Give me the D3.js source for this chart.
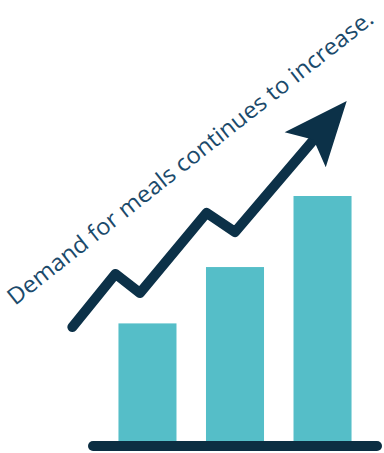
<!DOCTYPE html>
<html>
<head>
<meta charset="utf-8">
<script src="https://cdn.jsdelivr.net/npm/d3@7"></script>
<style>
  html, body { margin: 0; padding: 0; background: #fff; }
  svg { display: block; }
</style>
</head>
<body>
<div id="chartDiv"></div>
<script>
// bar categories and values (relative demand)
var categories = ["Year 1", "Year 2", "Year 3"];
var barValues = [48, 71, 100];

// trend arrow points, x in category units, y in value units
var trendX = [-0.16, 0.28, 0.53, 1.21, 1.50, 2.64];
var trendY = [46.5, 68.2, 60.4, 93.1, 85.3, 138.8];

var title = "Demand for meals continues to increase.";

var width = 384, height = 453;

var svg = d3.select("#chartDiv").append("svg")
    .attr("width", width)
    .attr("height", height);

var baseY = 441;

var x_scale = d3.scaleBand()
    .domain(categories)
    .range([88, 382])
    .paddingInner(0.337)
    .paddingOuter(0.348);

var x_lin = d3.scaleLinear()
    .domain([0, 3])
    .range([88, 382]);

var y_scale = d3.scaleLinear()
    .domain([0, 100])
    .range([baseY, 196]);

// bars
svg.append("g").selectAll("rect")
    .data(barValues)
    .enter().append("rect")
    .attr("x", function(d, i){ return x_scale(categories[i]); })
    .attr("y", function(d){ return y_scale(d); })
    .attr("width", x_scale.bandwidth())
    .attr("height", function(d){ return baseY - y_scale(d); })
    .attr("fill", "#55bec8");

// baseline
svg.append("line")
    .attr("x1", x_scale.range()[0] + 5)
    .attr("x2", x_scale.range()[1] - 5)
    .attr("y1", baseY + 5)
    .attr("y2", baseY + 5)
    .attr("stroke", "#0c2e42")
    .attr("stroke-width", 10)
    .attr("stroke-linecap", "round");

// trend line
var pts = trendX.map(function(d, i){ return [x_lin(d), y_scale(trendY[i])]; });
var tip = pts[pts.length - 1],
    prev = pts[pts.length - 2];
var ang = Math.atan2(tip[1] - prev[1], tip[0] - prev[0]);
var headLen = 64, headHalf = 27, notch = 13;

var linePts = pts.slice(0, -1);
linePts.push([tip[0] - Math.cos(ang) * (headLen - notch - 4), tip[1] - Math.sin(ang) * (headLen - notch - 4)]);

svg.append("path")
    .attr("d", d3.line()(linePts))
    .attr("fill", "none")
    .attr("stroke", "#0c3148")
    .attr("stroke-width", 10)
    .attr("stroke-linejoin", "round")
    .attr("stroke-linecap", "round");

svg.append("path")
    .attr("d", "M0,0 L" + (-headLen) + "," + (-headHalf) + " L" + (-(headLen - notch)) + ",0 L" + (-headLen) + "," + headHalf + "Z")
    .attr("transform", "translate(" + tip[0] + "," + tip[1] + ") rotate(" + (ang * 180 / Math.PI) + ")")
    .attr("fill", "#0c3148");

// rotated title
svg.append("text")
    .attr("transform", "translate(15,306) rotate(-38.3)")
    .attr("font-family", "'Open Sans', sans-serif")
    .attr("font-size", 23)
    .attr("fill", "#1b4a6b")
    .attr("textLength", 459)
    .attr("lengthAdjust", "spacingAndGlyphs")
    .text(title);
</script>
</body>
</html>
